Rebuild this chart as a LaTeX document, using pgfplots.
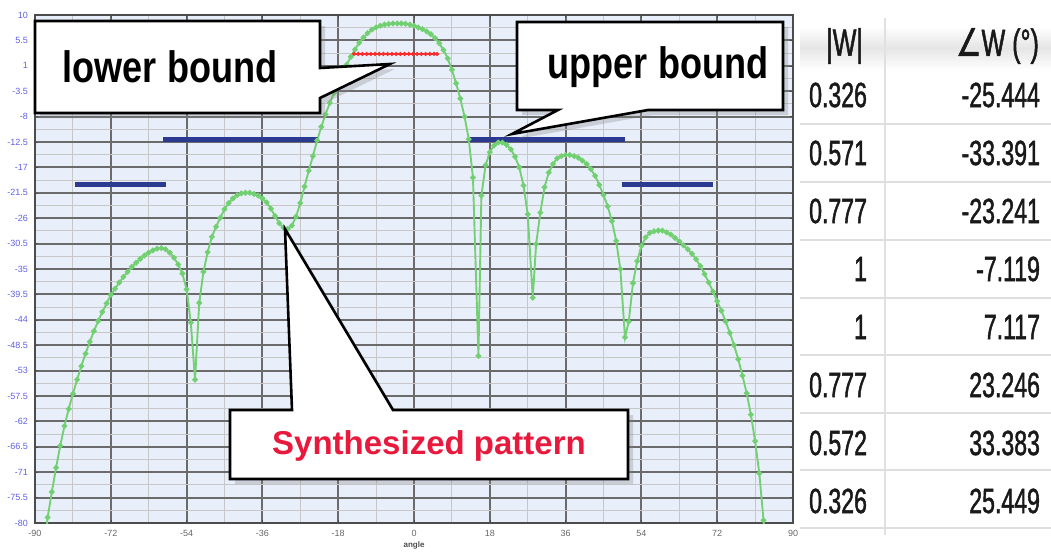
\documentclass[border=0pt]{standalone}
\usepackage{pgfplots}
\pgfplotsset{compat=1.18}
\usepackage{fontspec}
\setmainfont{Liberation Sans}
\newfontfamily\callfont[FakeStretch=0.82]{Liberation Sans}
\newfontfamily\tabfont[FakeStretch=0.66,FakeBold=1.3]{Liberation Sans}
\newfontfamily\djv[FakeStretch=0.75,FakeBold=1.3]{DejaVu Sans}
\usetikzlibrary{shadows}
\definecolor{gridbg}{RGB}{233,239,250}
\definecolor{curve}{RGB}{115,208,115}
\definecolor{curvemark}{RGB}{35,165,35}
\definecolor{bound}{RGB}{43,57,144}
\definecolor{lowred}{RGB}{245,45,45}
\definecolor{synred}{RGB}{232,25,60}
\definecolor{ytl}{RGB}{95,95,230}
\definecolor{tabtxt}{RGB}{25,25,25}

\begin{document}
\begin{tikzpicture}
\path[use as bounding box] (0,0) rectangle (525.5pt,-276pt);
\begin{axis}[
  at={(17.5pt,-261.5pt)}, anchor=south west,
  scale only axis, width=379pt, height=254pt,
  xmin=-90, xmax=90, ymin=-80, ymax=10,
  xtick={-90,-72,-54,-36,-18,0,18,36,54,72,90},
  xticklabels={-90,-72,-54,-36,-18,0,18,36,54,72,90},
  minor x tick num=1,
  ytick={-80,-75.5,-71,-66.5,-62,-57.5,-53,-48.5,-44,-39.5,-35,-30.5,-26,-21.5,-17,-12.5,-8,-3.5,1,5.5,10},
  yticklabels={-80,-75.5,-71,-66.5,-62,-57.5,-53,-48.5,-44,-39.5,-35,-30.5,-26,-21.5,-17,-12.5,-8,-3.5,1,5.5,10},
  minor y tick num=1,
  grid=both,
  major grid style={black!58, line width=0.95pt},
  minor grid style={black!22, line width=0.5pt},
  axis background/.style={fill=gridbg},
  axis line style={black!70, line width=0.9pt},
  tick style={black!70},
  major tick length=1.5pt, minor tick length=0pt,
  xticklabel style={font=\fontsize{4.5}{5}\selectfont, text=black!60},
  yticklabel style={font=\fontsize{4.5}{5}\selectfont, text=ytl},
  xlabel={angle},
  xlabel style={font=\fontsize{4}{5}\selectfont\bfseries, text=black!70, yshift=4pt},
]
\addplot[curve, line width=0.95pt, mark=*, mark size=0.9pt,
  mark options={fill=curvemark, draw=none}] coordinates {
(-88,-86)(-87,-79)(-86,-74.5)(-85,-70.2)(-84,-66.3)(-83,-62.8)(-82,-59.8)(-81,-57.1)(-80,-54.6)(-79,-52.2)(-78,-50.0)(-77,-47.9)(-76,-46.0)(-75,-44.2)(-74,-42.6)(-73,-41.1)(-72,-39.6)(-71,-38.5)(-70,-37.4)(-69,-36.4)(-68,-35.5)(-67,-34.6)(-66,-33.9)(-65,-33.2)(-64,-32.6)(-63,-32.1)(-62,-31.7)(-61,-31.4)(-60,-31.3)(-59,-31.5)(-58,-32.1)(-57,-33.0)(-56,-34.2)(-55,-35.8)(-54,-38.6)(-53,-44.5)(-52,-54.6)(-51,-41.0)(-50,-35.5)(-49,-32.0)(-48,-29.3)(-47,-27.5)(-46,-25.9)(-45,-24.4)(-44,-23.3)(-43,-22.5)(-42,-21.9)(-41,-21.6)(-40,-21.5)(-39,-21.5)(-38,-21.7)(-37,-22.0)(-36,-22.5)(-35,-23.2)(-34,-24.3)(-33,-25.6)(-32,-26.9)(-31,-27.7)(-30,-27.9)(-29,-27.3)(-28,-25.7)(-27,-23.3)(-26,-20.4)(-25,-17.6)(-24,-15.0)(-23,-12.2)(-22,-9.8)(-21,-7.6)(-20,-5.6)(-19,-3.8)(-18,-2.0)(-17,-0.4)(-16,1.2)(-15,2.6)(-14,3.9)(-13,5.1)(-12,6.0)(-11,6.8)(-10,7.4)(-9,7.8)(-8,8.1)(-7,8.3)(-6,8.4)(-5,8.5)(-4,8.5)(-3,8.5)(-2,8.45)(-1,8.3)(0,8.1)(1,7.8)(2,7.5)(3,7.1)(4,6.6)(5,5.9)(6,5.0)(7,3.8)(8,2.3)(9,0.3)(10,-2.1)(11,-4.8)(12,-8.0)(13,-12.0)(14,-18.8)(15.3,-50.4)(16,-22.0)(17,-16.6)(18,-14.3)(19,-13.1)(20,-12.6)(21,-12.6)(22,-13.0)(23,-13.8)(24,-15.1)(25,-17.0)(26,-20.2)(27,-25.3)(28.2,-40.1)(29,-30.6)(30,-25.0)(31,-20.5)(32,-17.9)(33,-16.4)(34,-15.4)(35,-15.0)(36,-14.8)(37,-14.8)(38,-15.0)(39,-15.3)(40,-15.8)(41,-16.4)(42,-17.3)(43,-18.5)(44,-20.1)(45,-21.9)(46,-23.9)(47,-26.5)(48,-30.0)(49,-35.0)(50.1,-47.1)(51,-44.3)(52,-37.5)(53,-33.6)(54,-30.9)(55,-29.4)(56,-28.6)(57,-28.3)(58,-28.2)(59,-28.2)(60,-28.5)(61,-28.9)(62,-29.5)(63,-30.1)(64,-30.8)(65,-31.5)(66,-32.3)(67,-33.3)(68,-34.5)(69,-35.9)(70,-37.4)(71,-39.0)(72,-40.7)(73,-42.4)(74,-44.3)(75,-46.3)(76,-48.5)(77,-51.0)(78,-53.9)(79,-57.0)(80,-60.8)(81,-65.5)(82,-71.2)(83,-79.5)(84,-88)
};
% lower bound (red)
\addplot[lowred, line width=0.9pt, mark=*, mark size=0.5pt] coordinates {
(-14.25,3.1)(-13.25,3.1)(-12.25,3.1)(-11.25,3.1)(-10.25,3.1)(-9.25,3.1)(-8.25,3.1)(-7.25,3.1)(-6.25,3.1)(-5.25,3.1)(-4.25,3.1)(-3.25,3.1)(-2.25,3.1)(-1.25,3.1)(-0.25,3.1)(0.75,3.1)(1.75,3.1)(2.75,3.1)(3.75,3.1)(4.75,3.1)(5.5,3.1)
};
% upper bounds (blue)
\addplot[bound, line width=2.6pt] coordinates {(-80.5,-20) (-59,-20)};
\addplot[bound, line width=2.6pt] coordinates {(-59.5,-12) (-22.7,-12)};
\addplot[bound, line width=2.6pt] coordinates {(12.9,-12) (50.1,-12)};
\addplot[bound, line width=2.6pt] coordinates {(49.3,-20) (71,-20)};
\end{axis}

\begin{scope}[x=0.5pt,y=-0.5pt]
% callouts
\draw[black, line width=1.3pt, fill=white, drop shadow={shadow xshift=2.5pt, shadow yshift=-2.5pt, opacity=0.3}]
  (35,21) -- (320,21) -- (320,68) -- (390,64) -- (320,98) -- (320,113) -- (35,113) -- cycle;
\node[font=\callfont\bfseries\fontsize{22}{26}\selectfont] at (170,67) {lower bound};
\draw[black, line width=1.3pt, fill=white, drop shadow={shadow xshift=2.5pt, shadow yshift=-2.5pt, opacity=0.3}]
  (517,22) -- (783,22) -- (783,110) -- (648,110) -- (512,134) -- (558,110) -- (517,110) -- cycle;
\node[font=\callfont\bfseries\fontsize{22}{26}\selectfont] at (658,67) {upper bound};
\draw[black, line width=1.3pt, fill=white, drop shadow={shadow xshift=2.5pt, shadow yshift=-2.5pt, opacity=0.3}]
  (230,410) -- (292,410) -- (285,229) -- (393,410) -- (628,410) -- (628,479) -- (230,479) -- cycle;
\node[font=\bfseries\fontsize{16.5}{20}\selectfont, text=synred] at (429,446) {Synthesized pattern};

% table
\shade[top color=white, bottom color=white, middle color=black!10] (800,26) rectangle (1051,70);
\draw[black!12, line width=0.8pt] (885,18) -- (885,535);
\foreach \yy in {124,182,240,298,355,413,470,528}
  \draw[black!13, line width=0.8pt] (800,\yy) -- (1051,\yy);
\node[anchor=east, text=tabtxt, font=\tabfont\fontsize{19}{22}\selectfont] at (870,46) {|W|};
\node[anchor=east, text=tabtxt, font=\tabfont\fontsize{19}{22}\selectfont] at (1046,46) {{\djv\char"2220}W (°)};
\foreach \yy/\a/\b in {95/0.326/-25.444, 153/0.571/-33.391, 211/0.777/-23.241, 269/1/-7.119, 327/1/7.117, 385/0.777/23.246, 443/0.572/33.383, 501/0.326/25.449}{
  \node[anchor=east, text=tabtxt, font=\tabfont\fontsize{17.5}{20}\selectfont] at (874,\yy) {\a};
  \node[anchor=east, text=tabtxt, font=\tabfont\fontsize{17.5}{20}\selectfont] at (1047,\yy) {\b};
}
\end{scope}
\end{tikzpicture}
\end{document}
